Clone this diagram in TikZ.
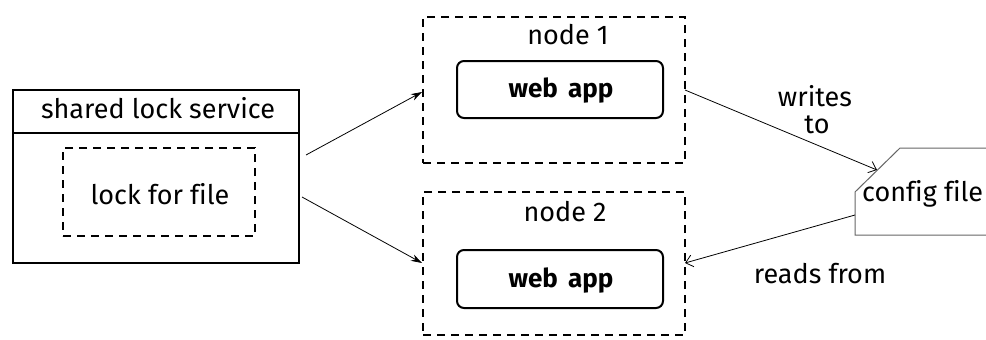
\documentclass[tikz,border=0pt]{standalone}
\usepackage{fontspec}
\setmainfont[Ligatures=NoCommon]{Fira Sans}
\usetikzlibrary{arrows.meta}
\begin{document}
\begin{tikzpicture}[x=1pt,y=-1pt,
  solidbox/.style={draw, line width=2pt, inner sep=0pt},
  dashbox/.style={draw, line width=2pt, dash pattern=on 8pt off 6pt, inner sep=0pt},
  appbox/.style={draw, line width=2pt, rounded corners=7pt, inner sep=0pt},
  lbl/.style={font=\fontsize{27}{31}\selectfont, inner sep=0pt},
  boldlbl/.style={font=\fontsize{26}{30}\selectfont\bfseries, inner sep=0pt},
  conn/.style={line width=0.8pt, -{Stealth[length=11pt,width=7pt]}},
  openconn/.style={line width=0.8pt, -{Straight Barb[length=7pt,width=12pt]}}]
\useasboundingbox (0,0) rectangle (986,340);
\fill[white] (0,0) rectangle (986,340);

% shared lock service
\node[solidbox, minimum width=286pt, minimum height=173pt] (svc) at (156,176.5) {};
\draw[line width=2pt] (13,133) -- (299,133);
\node[lbl] (svctitle) at (158,108) {shared lock service};
\node[dashbox, minimum width=192pt, minimum height=88pt] (lock) at (159,192) {};
\node[lbl] (locktext) at (160,194) {lock for file};

% node 1
\node[dashbox, minimum width=262pt, minimum height=146pt] (n1) at (554,90) {};
\node[lbl] (n1title) at (568,35) {node 1};
\node[appbox, minimum width=206pt, minimum height=57pt] (app1) at (560,89.5) {};
\node[boldlbl] (app1text) at (561,91) {web\hspace{0.15em} app};

% node 2
\node[dashbox, minimum width=262pt, minimum height=143pt] (n2) at (554,263.5) {};
\node[lbl] (n2title) at (565,212) {node 2};
\node[appbox, minimum width=206pt, minimum height=58pt] (app2) at (560,279) {};
\node[boldlbl] (app2text) at (561,281) {web\hspace{0.15em} app};

% config file
\draw[line width=1pt, draw=black!60] (990,148) -- (900,148) -- (855,192) -- (855,235) -- (990,235);
\node[lbl, anchor=west] (cfg) at (862,194) {config file};
\coordinate (cfgcorner) at (877,170);
\coordinate (cfgleft) at (855,215);

% connectors
\coordinate (svcA) at (306,155);
\coordinate (svcB) at (302,197);
\coordinate (n1in) at (422,92);
\coordinate (n2in) at (422,263);
\coordinate (n1out) at (685,90);
\coordinate (n2out) at (685,263);
\draw[conn] (svcA) -- (n1in);
\draw[conn] (svcB) -- (n2in);
\draw[openconn] (n1out) -- (cfgcorner);
\draw[openconn] (cfgleft) -- (n2out);

\node[lbl] (w1) at (815,96) {writes};
\node[lbl] (w2) at (817,125) {to};
\node[lbl] (r1) at (820,274) {reads from};
\end{tikzpicture}
\end{document}
